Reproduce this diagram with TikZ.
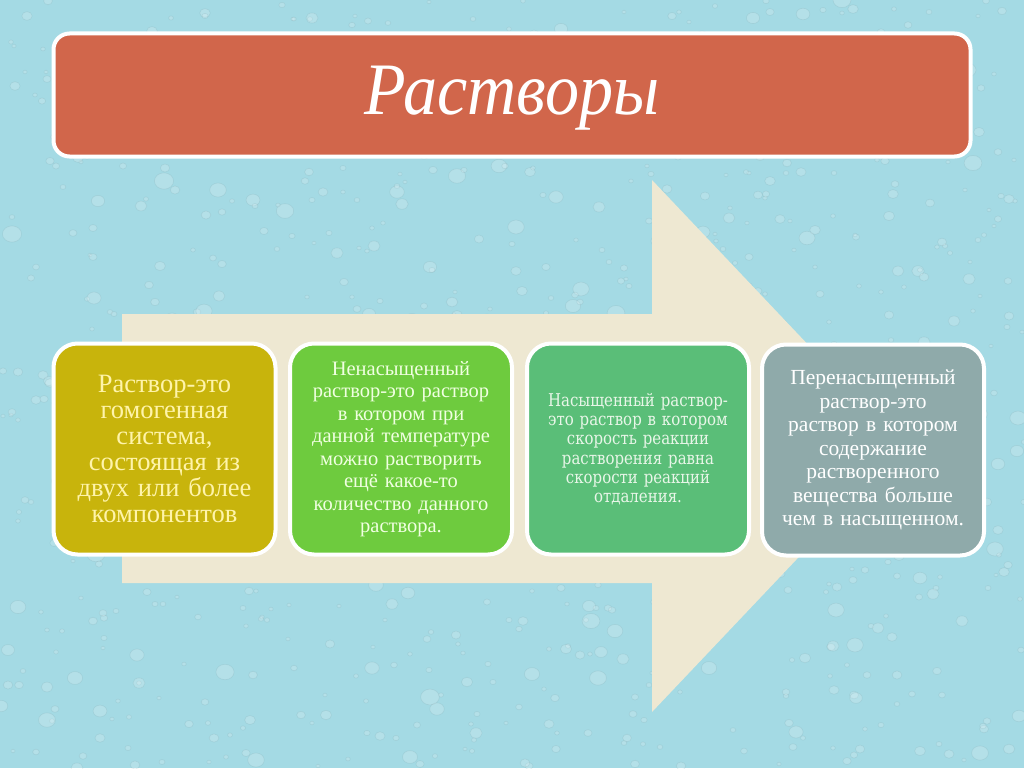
\documentclass[tikz,border=0pt]{standalone}
\usepackage{fontspec}
\setmainfont{Liberation Serif}
\newfontfamily\wideserif[FakeStretch=0.85]{DejaVu Serif}
\definecolor{bgc}{RGB}{164,218,228}
\definecolor{titlec}{RGB}{209,102,75}
\definecolor{arrowc}{RGB}{238,232,210}
\definecolor{c1}{RGB}{200,180,12}
\definecolor{c2}{RGB}{110,203,62}
\definecolor{c3}{RGB}{90,190,120}
\definecolor{c4}{RGB}{143,170,170}
\definecolor{t1}{RGB}{255,244,170}
\definecolor{t2}{RGB}{240,255,225}
\definecolor{t3}{RGB}{232,246,232}
\tikzset{
  card/.style={draw=white, line width=4pt, rounded corners=24pt,
    minimum width=222pt, minimum height=211pt, align=center, inner sep=0pt,
    text width=218pt},
  drop/.style={fill=white, fill opacity=0.18, draw=bgc!70!black, draw opacity=0.18, line width=0.6pt},
}
\begin{document}
\begin{tikzpicture}[x=1pt,y=-1pt]
\fill[bgc] (0,0) rectangle (1024,768);
\useasboundingbox (0,0) rectangle (1024,768);
% water drops texture
\pgfmathsetseed{7}
\foreach \i in {1,...,900}{
  \pgfmathsetmacro{\dx}{random(0,1024)}
  \pgfmathsetmacro{\dy}{random(0,768)}
  \pgfmathsetmacro{\dr}{2+8*rnd*rnd}
  \path[drop] (\dx,\dy) ellipse [x radius=\dr pt, y radius=0.85*\dr pt];
}
% big arrow
\fill[arrowc] (122,314) -- (652,314) -- (652,180) -- (904,446) -- (652,712) -- (652,583) -- (122,583) -- cycle;
% title
\node[draw=white, line width=4pt, fill=titlec, rounded corners=16pt,
  minimum width=917pt, minimum height=123pt, inner sep=0pt] (title) at (512,95)
  {};
\node[text=white, font={\fontsize{74}{80}\selectfont\itshape}, inner sep=0pt] (tt) at (512,98)
  {\scalebox{0.92}[1.0]{Растворы}};
% cards
\node[card, fill=c1, text=t1, font={\fontsize{26.5}{26}\selectfont}] (b1) at (164.5,449)
  {Раствор-это\\ гомогенная\\ система,\\ состоящая из\\ двух или более\\ компонентов};
\node[card, fill=c2, text=t2, font={\fontsize{20.5}{22.5}\selectfont}] (b2) at (401,449)
  {Ненасыщенный\\ раствор-это раствор\\ в котором при\\ данной температуре\\ можно растворить\\ ещё какое-то\\ количество данного\\ раствора.};
\node[card, fill=c3, text=t3, font={\wideserif\fontsize{17.6}{19.3}\selectfont}] (b3) at (638,449)
  {Насыщенный раствор-\\ это раствор в котором\\ скорость реакции\\ растворения равна\\ скорости реакций\\ отдаления.\\[4pt]};
\node[card, fill=c4, text=white, font={\fontsize{21.5}{23.5}\selectfont}] (b4) at (873,450)
  {Перенасыщенный\\ раствор-это\\ раствор в котором\\ содержание\\ растворенного\\ вещества больше\\ чем в насыщенном.};
\end{tikzpicture}
\end{document}
